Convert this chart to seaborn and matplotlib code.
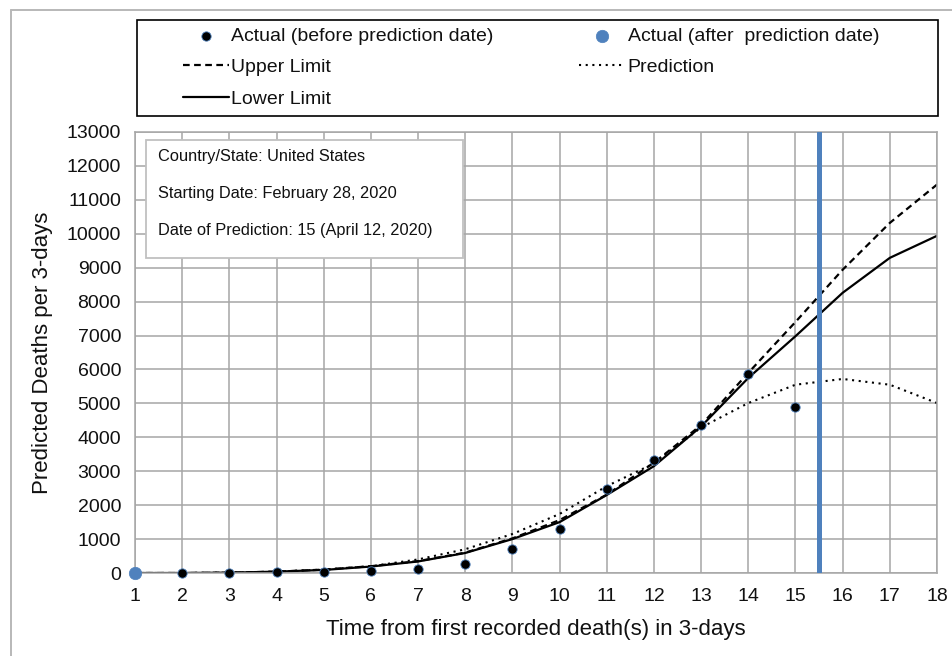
import numpy as np
import pandas as pd
import matplotlib
matplotlib.use("Agg")
import matplotlib.pyplot as plt
import seaborn as sns
from matplotlib.patches import Rectangle
from matplotlib.lines import Line2D

# ---------------- data ----------------
periods = list(range(1, 19))
upper_limit = [0, 0, 10, 40, 100, 200, 350, 600, 1020, 1560, 2310, 3250, 4360, 5900, 7400, 8940, 10320, 11450]
lower_limit = [0, 0, 10, 40, 90, 190, 340, 590, 1000, 1500, 2300, 3150, 4320, 5750, 6980, 8260, 9290, 9940]
prediction = [0, 0, 10, 40, 100, 200, 400, 700, 1150, 1740, 2560, 3230, 4290, 5010, 5550, 5720, 5550, 5010]

actual_before_x = [2, 3, 4, 5, 6, 7, 8, 9, 10, 11, 12, 13, 14, 15]
actual_before_y = [0, 5, 15, 20, 50, 130, 270, 720, 1310, 2480, 3330, 4360, 5870, 4890]
actual_after_x = [1]
actual_after_y = [0]

prediction_date = 15.5
y_ticks = list(range(0, 13001, 1000))
x_ticks = periods

info_lines = ["Country/State: United States",
              "Starting Date: February 28, 2020",
              "Date of Prediction: 15 (April 12, 2020)"]

# ---------------- style ----------------
sns.set_style("white")
plt.rcParams["font.family"] = ["Liberation Sans", "DejaVu Sans"]

W, H = 953, 656
fig = plt.figure(figsize=(W / 100, H / 100), dpi=100)
ax = fig.add_axes([135 / W, (H - 573) / H, (937 - 135) / W, (573 - 132) / H])

grid_c = "#a6a6a6"
blue = "#4f81bd"

df_lines = pd.DataFrame({"x": periods, "upper": upper_limit,
                         "lower": lower_limit, "pred": prediction})

sns.lineplot(data=df_lines, x="x", y="upper", ax=ax, color="black",
             linewidth=1.6, linestyle=(0, (3, 2)), label="Upper Limit")
sns.lineplot(data=df_lines, x="x", y="lower", ax=ax, color="black",
             linewidth=1.6, label="Lower Limit")
sns.lineplot(data=df_lines, x="x", y="pred", ax=ax, color="black",
             linewidth=1.5, linestyle=(0, (1, 2.2)), label="Prediction")

ax.axvline(prediction_date, ymin=0, ymax=1, color=blue, linewidth=3.6, zorder=3)

sns.scatterplot(x=actual_before_x, y=actual_before_y, ax=ax, color="black",
                s=45, edgecolor=blue, linewidth=0.6, zorder=5, clip_on=False,
                label="Actual (before prediction date)")
sns.scatterplot(x=actual_after_x, y=actual_after_y, ax=ax, color=blue,
                s=80, edgecolor=blue, linewidth=0.5, zorder=6, clip_on=False,
                label="Actual (after  prediction date)")

ax.set_xlim(1, 18)
ax.set_ylim(0, 13000)
ax.set_xticks(x_ticks)
ax.set_yticks(y_ticks)
ax.set_xticklabels([str(v) for v in x_ticks])
ax.set_yticklabels([str(v) for v in y_ticks])
ax.grid(True, color=grid_c, linewidth=1.1)
ax.set_axisbelow(True)
for s in ax.spines.values():
    s.set_color(grid_c)
    s.set_linewidth(1.1)
ax.tick_params(axis="both", which="major", direction="out", length=5,
               width=1.1, color=grid_c, labelsize=14, labelcolor="#111111")
ax.tick_params(axis="y", pad=5)
ax.tick_params(axis="x", pad=6)

ax.set_xlabel("Time from first recorded death(s) in 3-days", fontsize=16,
              color="#111111", labelpad=10)
ax.set_ylabel("Predicted Deaths per 3-days", fontsize=16, color="#111111",
              labelpad=10)

# ---------------- legend ----------------
h, l = ax.get_legend_handles_labels()
ax.get_legend().remove()
lut = dict(zip(l, h))
order = ["Actual (before prediction date)", "Upper Limit", "Lower Limit",
         "Actual (after  prediction date)", "Prediction"]
leg = fig.legend([lut[k] for k in order], order, loc="upper left",
                 bbox_to_anchor=(183 / W, 1 - 27 / H), ncol=2, frameon=False,
                 fontsize=14, handlelength=2.37, handletextpad=0.12,
                 columnspacing=4.4, labelspacing=0.72, borderpad=0,
                 borderaxespad=0)
for t in leg.get_texts():
    t.set_color("#111111")

fig.patches.append(Rectangle((137 / W, 1 - 116 / H), (938 - 137) / W, (116 - 20) / H,
                             transform=fig.transFigure, fill=False,
                             edgecolor="black", linewidth=1.2, figure=fig))

# ---------------- info box ----------------
fig.patches.append(Rectangle((146 / W, 1 - 258 / H), (463 - 146) / W, (258 - 140) / H,
                             transform=fig.transFigure, facecolor="white",
                             edgecolor="#c0c0c0", linewidth=1.3, figure=fig, zorder=4))
for i, line in enumerate(info_lines):
    fig.text(158 / W, 1 - (156 + i * 37.5) / H, line, fontsize=11.8,
             color="#111111", va="center", ha="left", zorder=5)

# outer frame
fig.add_artist(Line2D([11 / W, 11 / W], [0, 1 - 10 / H], transform=fig.transFigure,
                      color="#b8b8b8", linewidth=1.4))
fig.add_artist(Line2D([11 / W, 1], [1 - 10 / H, 1 - 10 / H], transform=fig.transFigure,
                      color="#b8b8b8", linewidth=1.4))

fig.savefig("out.png", dpi=100, facecolor="white")
